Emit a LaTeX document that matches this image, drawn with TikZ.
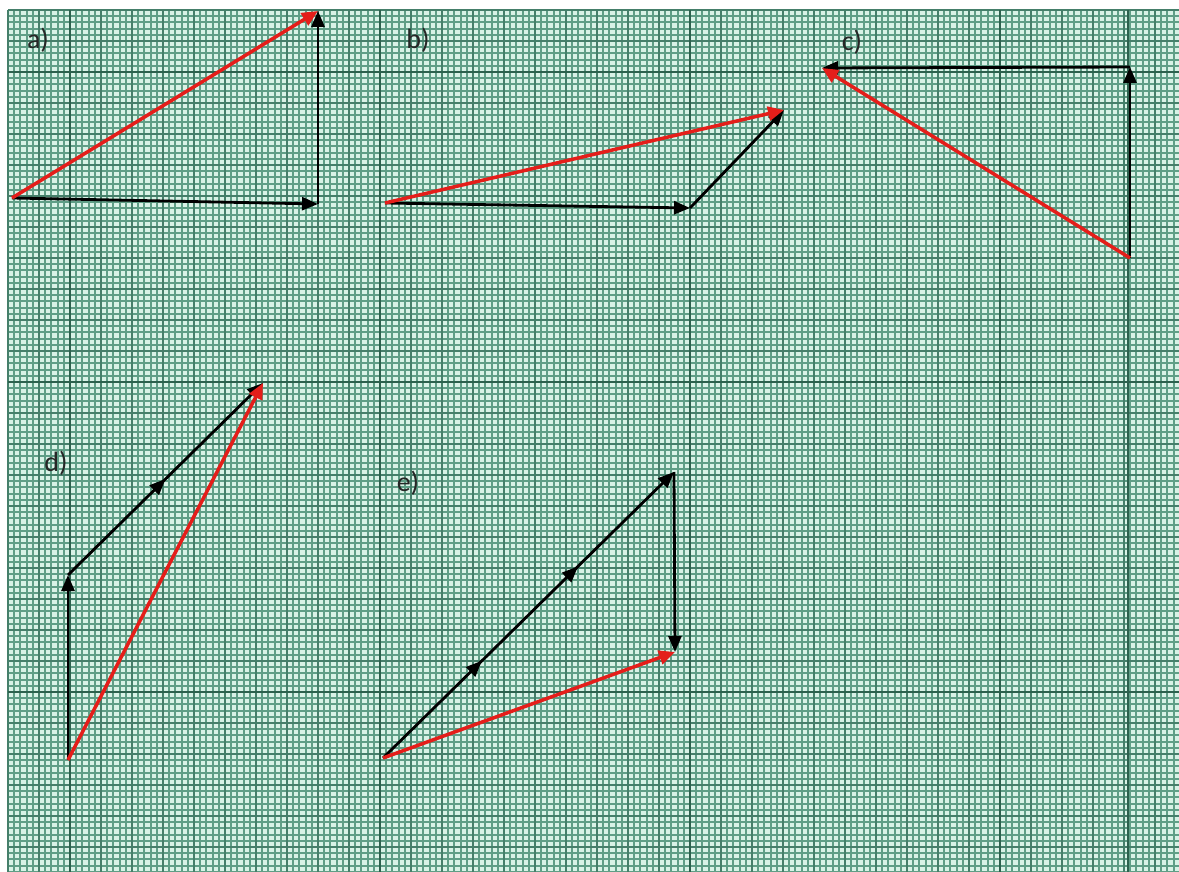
\documentclass[tikz,border=0pt]{standalone}
\usepackage{fontspec}
\setmainfont{Carlito}
\usetikzlibrary{arrows.meta,decorations.markings}
\definecolor{paper}{HTML}{D8F2E6}
\definecolor{gridminor}{HTML}{5F9E86}
\definecolor{gridmid}{HTML}{457F6A}
\definecolor{gridmajor}{HTML}{2C614D}
\definecolor{vecred}{HTML}{E41E1A}
\definecolor{labelgrey}{HTML}{262626}
\begin{document}
\begin{tikzpicture}[x=1pt,y=-1pt,
  minorline/.style={gridminor, line width=2.1pt},
  midline/.style={gridmid, line width=1.8pt},
  majorline/.style={gridmajor, line width=2pt},
  vec/.style={line width=2.8pt, black, -{Triangle[length=16pt,width=13pt]}},
  res/.style={line width=3.5pt, vecred, -{Triangle[length=16pt,width=14pt]}},
  midarrow/.style={postaction={decorate, decoration={markings,
      mark=at position #1 with {\arrow{Triangle[length=16pt,width=13pt]}}}}},
  lbl/.style={font=\fontsize{28}{28}\selectfont, text=labelgrey, inner sep=0pt}]
\useasboundingbox (0,0) rectangle (1179,872);
\fill[white] (0,0) rectangle (1179,872);
\fill[paper] (8,10) rectangle (1179,872);
% minor grid
\foreach \i in {0,...,188} {\draw[minorline] ({8+6.2*\i},10) -- ({8+6.2*\i},872);}
\foreach \j in {0,...,139} {\draw[minorline] (8,{10+6.2*\j}) -- (1179,{10+6.2*\j});}
% medium grid
\foreach \i in {0,...,37} {\draw[midline] ({8+31*\i},10) -- ({8+31*\i},872);}
\foreach \j in {0,...,27} {\draw[midline] (8,{10+31*\j}) -- (1179,{10+31*\j});}
% major grid
\foreach \x in {70,380,690,1000,1128} {\draw[majorline] (\x,10) -- (\x,872);}
\foreach \y in {72,382,692} {\draw[majorline] (8,\y) -- (1179,\y);}

% a)
\coordinate (A0) at (12,198);
\coordinate (A1) at (318,204);
\coordinate (A2) at (318,11);
\draw[vec] (A0) -- (A1);
\draw[vec] (A1) -- (A2);
\draw[res] (A0) -- (A2);
\node[lbl] (la) at (38,40) {a)};

% b)
\coordinate (B0) at (385,203);
\coordinate (B1) at (690,208);
\coordinate (B2) at (784,110);
\draw[vec] (B0) -- (B1);
\draw[vec] (B1) -- (B2);
\draw[res] (B0) -- (B2);
\node[lbl] (lb) at (418,40) {b)};

% c)
\coordinate (C0) at (1130,258);
\coordinate (C1) at (1130,67);
\coordinate (C2) at (822,68);
\draw[vec] (C0) -- (C1);
\draw[vec] (C1) -- (C2);
\draw[res] (C0) -- (C2);
\node[lbl] (lc) at (852,42) {c)};

% d)
\coordinate (D0) at (68,760);
\coordinate (D1) at (68,575);
\coordinate (D2) at (263,383);
\draw[vec] (D0) -- (D1);
\draw[vec, midarrow=0.5] (D1) -- (D2);
\draw[res] (D0) -- (D2);
\node[lbl] (ld) at (56,463) {d)};

% e)
\coordinate (E0) at (383,758);
\coordinate (E1) at (674,472);
\coordinate (E2) at (675,652);
\draw[vec, midarrow=0.34, midarrow=0.67] (E0) -- (E1);
\draw[vec] (E1) -- (E2);
\draw[res] (E0) -- (E2);
\node[lbl] (le) at (408,483) {e)};
\end{tikzpicture}
\end{document}
